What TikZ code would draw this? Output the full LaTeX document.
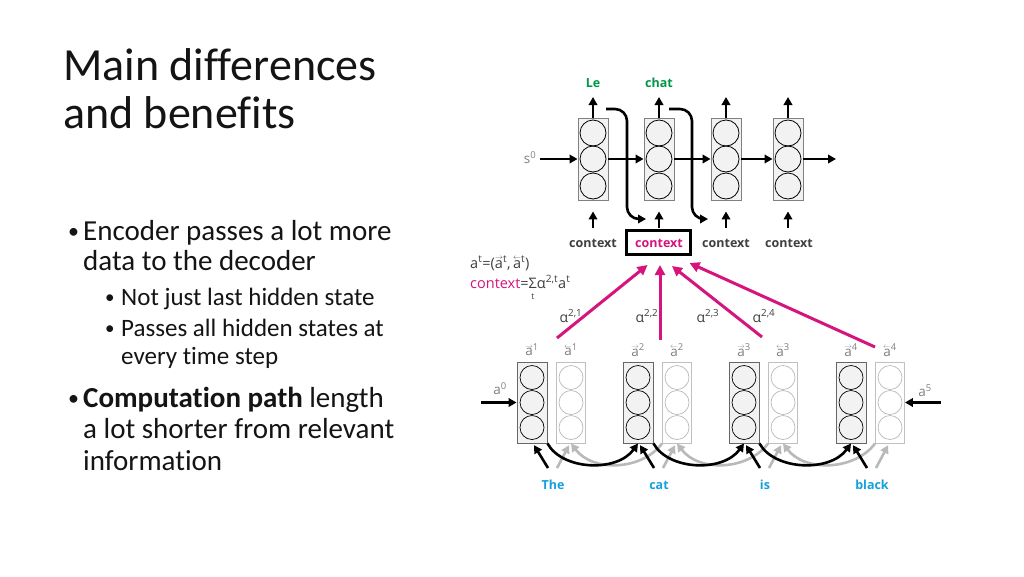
\documentclass[tikz,border=0pt]{standalone}
\usepackage{fontspec}
\usepackage{graphicx}
\setmainfont{Carlito}[Ligatures=NoCommon]
\newfontfamily\diagfont{Open Sans}
\usetikzlibrary{arrows.meta,calc}
\definecolor{txt}{RGB}{20,20,20}
\definecolor{dg}{RGB}{64,64,64}
\definecolor{lg}{RGB}{128,128,128}
\definecolor{eg}{RGB}{185,185,185}
\definecolor{grn}{RGB}{0,150,70}
\definecolor{mag}{RGB}{214,20,125}
\definecolor{blu}{RGB}{20,160,220}
\definecolor{boxfill}{RGB}{242,242,242}
\newcommand\vra{\ooalign{a\cr\hidewidth\raisebox{0.56em}{\scalebox{0.55}[0.5]{$\rightarrow$}}\hidewidth\cr}}
\newcommand\vla{\ooalign{a\cr\hidewidth\raisebox{0.56em}{\scalebox{0.55}[0.5]{$\leftarrow$}}\hidewidth\cr}}
\newcommand\sumt{\ooalign{Σ\cr\hidewidth\raisebox{-0.8em}{\fontsize{8.5}{9}\selectfont t}\hidewidth\cr}}
\begin{document}
\begin{tikzpicture}[x=1pt,y=-1pt,
  title/.style={anchor=base west,inner sep=0,text=txt,font=\fontsize{46}{50}\selectfont},
  btxt/.style={anchor=base west,inner sep=0,text=txt,font=\fontsize{29}{32}\selectfont},
  stxt/.style={anchor=base west,inner sep=0,text=txt,font=\fontsize{25}{28}\selectfont},
  bul/.style={anchor=base west,inner sep=0,text=txt,font=\fontsize{22}{24}\selectfont},
  sbul/.style={anchor=base west,inner sep=0,text=txt,font=\fontsize{19}{21}\selectfont},
  decbox/.style={draw=lg,fill=boxfill,line width=0.9pt,minimum width=30,minimum height=82,inner sep=0},
  ebox/.style={draw=dg!80,fill=boxfill,line width=0.9pt,minimum width=30,minimum height=81,inner sep=0},
  gbox/.style={draw=eg!90,fill=white,line width=0.9pt,minimum width=29,minimum height=81,inner sep=0},
  dcirc/.style={circle,draw=black,line width=0.8pt,minimum size=26,inner sep=0},
  ecirc/.style={circle,draw=black,line width=0.7pt,minimum size=24,inner sep=0},
  gcirc/.style={circle,draw=eg,line width=0.7pt,minimum size=24,inner sep=0},
  arr/.style={line width=2.6pt,-{Triangle[length=8pt,width=8.5pt]}},
  garr/.style={arr,draw=eg},
  marr/.style={line width=3pt,draw=mag,-{Triangle[length=10pt,width=10pt]}},
  lab/.style={inner sep=0,text=lg,font=\diagfont\fontsize{13.5}{15}\selectfont},
  ctx/.style={anchor=base,inner sep=0,text=dg,font=\diagfont\bfseries\fontsize{12.5}{14}\selectfont},
  wrd/.style={anchor=base,inner sep=0,text=blu,font=\diagfont\bfseries\fontsize{12.5}{14}\selectfont},
  outl/.style={anchor=base,inner sep=0,text=grn,font=\diagfont\bfseries\fontsize{12.5}{14}\selectfont},
  frm/.style={anchor=base west,inner sep=0,text=dg,font=\diagfont\fontsize{14.5}{16}\selectfont},
  alab/.style={inner sep=0,text=dg,font=\diagfont\fontsize{14}{16}\selectfont}]
\useasboundingbox[fill=white] (0,0) rectangle (1024,576);

% ---------- left text ----------
\node[title] (t1) at (63,80) {Main differences};
\node[title] (t2) at (63,128) {and benefits};

\node[bul] (b1) at (68,238) {\textbullet};
\node[btxt] (b1a) at (83,240) {Encoder passes a lot more};
\node[btxt] (b1b) at (83,270) {data to the decoder};
\node[sbul] (s1) at (105,303) {\textbullet};
\node[stxt] (s1a) at (121,305) {Not just last hidden state};
\node[sbul] (s2) at (105,334) {\textbullet};
\node[stxt] (s2a) at (121,336) {Passes all hidden states at};
\node[stxt] (s2b) at (121,364) {every time step};
\node[bul] (b2) at (68,405) {\textbullet};
\node[btxt] (b2a) at (83,407) {\textbf{Computation path} length};
\node[btxt] (b2b) at (83,438) {a lot shorter from relevant};
\node[btxt] (b2c) at (83,470) {information};

% ---------- decoder ----------
\foreach \i/\x in {1/593,2/659,3/726,4/788}{
  \node[decbox] (d\i) at (\x,159) {};
  \foreach \j/\dy in {1/-26,2/0,3/27}
    \node[dcirc] (d\i-\j) at (\x,159+\dy) {};
  \coordinate (o\i) at (\x,97);
  \draw[arr] (d\i.north) -- (o\i);
  \coordinate (cu\i) at (\x,228);
  \draw[arr,shorten >=11pt] (cu\i) -- (d\i.south);
}
\node[outl] (le) at (593,87) {Le};
\node[outl] (chat) at (659,87) {chat};

\node[lab] (s0) at (530,158) {s\textsuperscript{0}};
\coordinate (sin) at (540,159);
\coordinate (sout) at (836,159);
\draw[arr] (sin) -- (d1.west);
\draw[arr] (d1.east) -- (d2.west);
\draw[arr] (d2.east) -- (d3.west);
\draw[arr] (d3.east) -- (d4.west);
\draw[arr] (d4.east) -- (sout);

% feedback of outputs
\coordinate (k1) at (606,109);
\coordinate (k2) at (669,109);
\draw[arr,rounded corners=12pt] (k1) -- ++(21,0) -- ++(0,110) -- ++(19,0);
\draw[arr,rounded corners=12pt] (k2) -- ++(23,0) -- ++(0,110) -- ++(16,0);

% context labels
\node[ctx] (c1) at (593,247) {context};
\node[ctx,text=mag] (c2) at (659,247) {context};
\node[ctx] (c3) at (726,247) {context};
\node[ctx] (c4) at (789,247) {context};
\node[draw=black,line width=3pt,minimum width=64,minimum height=24,inner sep=0] (cb) at (658.5,242.5) {};

% formulas
\node[frm] (f1) at (470,268) {a\textsuperscript{t}=(\vra\textsuperscript{t},\,\vla\textsuperscript{t})};
\node[frm] (f2) at (470,288) {{\color{mag}context}=\sumt α\textsuperscript{2,t}a\textsuperscript{t}};

% ---------- encoder ----------
\foreach \i/\xb/\w in {1/532/The,2/638/cat,3/744/is,4/851/black}{
  \pgfmathsetmacro\xg{\xb+39}
  \node[gbox] (g\i) at (\xg,402.5) {};
  \node[ebox] (e\i) at (\xb,402.5) {};
  \foreach \j/\dy in {1/-25,2/0,3/25}{
    \node[ecirc] (e\i-\j) at (\xb,402.5+\dy) {};
    \node[gcirc] (g\i-\j) at (\xg,402.5+\dy) {};
  }
  \node[lab] (la\i) at (\xb,350) {\vra\textsuperscript{\i}};
  \node[lab] (lb\i) at (\xg,350) {\vla\textsuperscript{\i}};
  \node[wrd] (w\i) at (\xb+21,489) {\w};
  \coordinate (wb\i) at (\xb+16,468);
  \coordinate (wg\i) at (\xb+25,468);
}
% backward (gray) recurrences
\foreach \i/\j in {1/2,2/3,3/4}{
  \draw[garr] (g\j.south west) .. controls +(-20,27) and +(22,29) .. (g\i.south);
}
% word inputs
\foreach \i in {1,2,3,4}{
  \draw[garr,shorten >=2pt] (wg\i) -- ([xshift=-1pt]g\i.south);
  \draw[arr,shorten >=2pt] (wb\i) -- ([xshift=1pt]e\i.south);
}
% forward (black) recurrences
\foreach \i/\j in {1/2,2/3,3/4}{
  \draw[arr] (e\i.south east) .. controls +(15,27) and +(-21,29) .. (e\j.south);
}

\node[lab] (a0) at (500,389) {a\textsuperscript{0}};
\node[lab] (a5) at (925,391) {a\textsuperscript{5}};
\coordinate (ain) at (481,402.5);
\coordinate (bin) at (941,402.5);
\draw[arr] (ain) -- (e1.west);
\draw[arr] (bin) -- (g4.east);

% ---------- attention ----------
\coordinate (m1) at (557,338);
\coordinate (m2) at (660,340);
\coordinate (m3) at (762,337);
\coordinate (m4) at (875,347);
\coordinate (q1) at ($(cb.south)+(-11,9)$);
\coordinate (q2) at ($(cb.south)+(1.5,9)$);
\coordinate (q3) at ($(cb.south)+(13.5,10)$);
\coordinate (q4) at ($(cb.south)+(31,7)$);
\foreach \i in {1,2,3,4} \draw[marr] (m\i) -- (q\i);

\node[alab] (al1) at (571,316) {α\textsuperscript{2,1}};
\node[alab] (al2) at (647,316) {α\textsuperscript{2,2}};
\node[alab] (al3) at (708,316) {α\textsuperscript{2,3}};
\node[alab] (al4) at (764,316) {α\textsuperscript{2,4}};
\end{tikzpicture}
\end{document}
